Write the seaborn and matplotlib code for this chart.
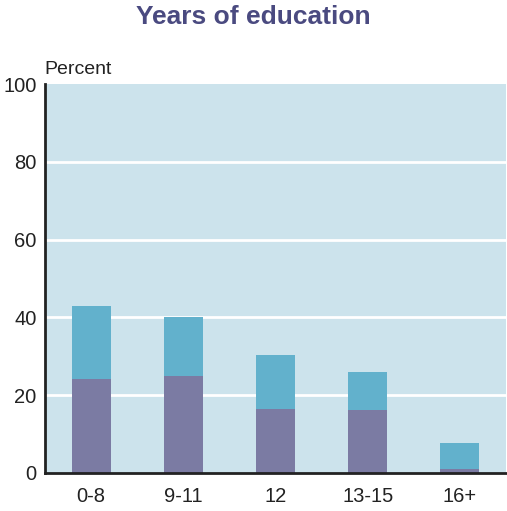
import matplotlib
matplotlib.use('Agg')
import matplotlib.pyplot as plt
import seaborn as sns
import pandas as pd

# ─── data ───────────────────────────────────────────────────────────────────
categories = ["0-8", "9-11", "12", "13-15", "16+"]
lower_pct  = [24.2, 25.0, 16.5, 16.3, 1.1]   # purple segment
upper_pct  = [18.8, 15.2, 13.9, 9.7, 6.7]    # blue segment on top

df = pd.DataFrame({"years": categories, "lower": lower_pct, "upper": upper_pct})
df["total"] = df["lower"] + df["upper"]

sns.set_theme(style="white")
plt.rcParams['font.family'] = ['Liberation Sans', 'DejaVu Sans']

fig = plt.figure(figsize=(5.07, 5.11), dpi=100)
ax = fig.add_axes([0.0888, 0.0744, 0.909, 0.7612])
ax.set_facecolor('#cce3ec')

sns.barplot(data=df, x="years", y="total", color='#62b1cc', saturation=1,
            width=0.424, ax=ax, zorder=3, linewidth=0, edgecolor='none')
sns.barplot(data=df, x="years", y="lower", color='#7b7ba3', saturation=1,
            width=0.424, ax=ax, zorder=4, linewidth=0, edgecolor='none')

ax.set_ylim(0, 100)
ax.set_xlim(-0.5, 4.5)
ax.set_yticks([0, 20, 40, 60, 80, 100])
for v in [20, 40, 60, 80]:
    ax.axhline(v, color='white', lw=2, zorder=1)

ax.set_xlabel("")
ax.set_ylabel("")
ax.tick_params(axis='both', length=0, labelsize=14.5, colors='#222222', pad=6)
ax.tick_params(axis='x', pad=10)

for s in ['top', 'right']:
    ax.spines[s].set_visible(False)
for s in ['left', 'bottom']:
    ax.spines[s].set_color('#222222')
    ax.spines[s].set_linewidth(2)
    ax.spines[s].set_zorder(5)

fig.text(0.087, 0.848, "Percent", fontsize=14, color='#222222', ha='left', va='bottom')
fig.text(0.5, 0.967, "Years of education", fontsize=19, fontweight='bold',
         color='#4a4a80', ha='center', va='center')

plt.savefig('out.png', dpi=100)
